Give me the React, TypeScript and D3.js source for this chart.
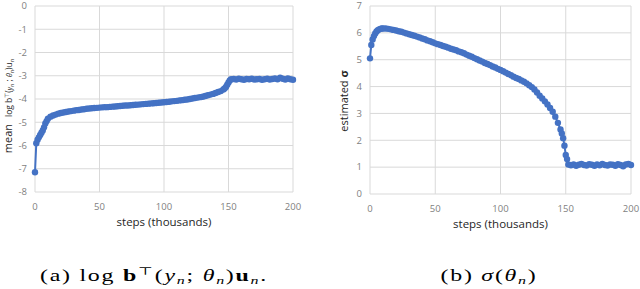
import * as d3 from "d3";

// shared x positions (thousands of steps)
const steps = [
  0, 1, 2, 3, 4, 5, 6, 7, 8, 9, 10,
  12, 14, 16, 18, 20, 22, 24, 26, 28, 30,
  32, 34, 36, 38, 40, 42, 44, 46, 48, 50,
  52, 54, 56, 58, 60, 62, 64, 66, 68, 70,
  72, 74, 76, 78, 80, 82, 84, 86, 88, 90,
  92, 94, 96, 98, 100, 102, 104, 106, 108, 110,
  112, 114, 116, 118, 120, 122, 124, 126, 128, 130,
  132, 134, 136, 138, 140, 142, 144, 146,
  147, 148, 149, 150, 151, 152,
  154, 156, 158, 160, 162, 164, 166, 168, 170, 172,
  174, 176, 178, 180, 182, 184, 186, 188, 190, 192,
  194, 196, 198, 200,
];

// (a) mean log b^T(y_n; theta_n) u_n
const logLik = [
  -7.15, -5.9, -5.75, -5.65, -5.55, -5.45, -5.35, -5.22, -5.05, -4.95, -4.85,
  -4.76, -4.71, -4.67, -4.63, -4.6, -4.58, -4.56, -4.54, -4.52, -4.5,
  -4.48, -4.47, -4.45, -4.44, -4.42, -4.41, -4.4, -4.39, -4.38, -4.37,
  -4.36, -4.35, -4.35, -4.34, -4.33, -4.32, -4.31, -4.3, -4.29, -4.28,
  -4.28, -4.27, -4.26, -4.25, -4.24, -4.23, -4.22, -4.21, -4.2, -4.19,
  -4.18, -4.17, -4.16, -4.15, -4.14, -4.13, -4.12, -4.1, -4.09, -4.08,
  -4.06, -4.05, -4.03, -4.02, -4.0, -3.98, -3.96, -3.94, -3.92, -3.9,
  -3.87, -3.84, -3.81, -3.78, -3.74, -3.7, -3.66, -3.59,
  -3.55, -3.48, -3.39, -3.29, -3.2, -3.15,
  -3.14, -3.16, -3.13, -3.15, -3.17, -3.14, -3.15, -3.13, -3.16, -3.15,
  -3.14, -3.17, -3.15, -3.13, -3.16, -3.14, -3.12, -3.15, -3.08, -3.13,
  -3.16, -3.12, -3.15, -3.17,
];

// (b) estimated sigma
const sigma = [
  5.05, 5.55, 5.75, 5.88, 5.98, 6.05, 6.1, 6.13, 6.15, 6.16, 6.16,
  6.16, 6.15, 6.13, 6.11, 6.09, 6.06, 6.04, 6.01, 5.98, 5.95,
  5.92, 5.89, 5.86, 5.83, 5.79, 5.76, 5.72, 5.69, 5.65, 5.61,
  5.58, 5.55, 5.51, 5.48, 5.45, 5.41, 5.38, 5.35, 5.31, 5.28,
  5.24, 5.19, 5.15, 5.11, 5.06, 5.02, 4.97, 4.93, 4.88, 4.84,
  4.8, 4.75, 4.71, 4.66, 4.62, 4.57, 4.52, 4.47, 4.42, 4.37,
  4.32, 4.28, 4.23, 4.18, 4.12, 4.05, 3.98, 3.89, 3.78, 3.66,
  3.56, 3.45, 3.33, 3.2, 3.06, 2.88, 2.65, 2.4,
  2.25, 2.08, 1.8, 1.45, 1.3, 1.1,
  1.07, 1.1, 1.05, 1.09, 1.12, 1.08, 1.06, 1.11, 1.09, 1.05,
  1.1, 1.07, 1.12, 1.08, 1.06, 1.1, 1.09, 1.05, 1.11, 1.08,
  1.03, 1.1, 1.12, 1.08,
];

const xTicks = [0, 50, 100, 150, 200];
const leftYTicks = [0, -1, -2, -3, -4, -5, -6, -7, -8];
const rightYTicks = [0, 1, 2, 3, 4, 5, 6, 7];

const BLUE = "#4472C4";
const GRID = "#d9d9d9";
const TICK = "#7f7f7f";
const SANS = "'Open Sans', 'Liberation Sans', sans-serif";
const SERIF = "'Liberation Serif', 'DejaVu Serif', serif";

type PanelProps = {
  values: number[];
  x0: number;
  x1: number;
  yDomain: [number, number];
  yRange: [number, number];
  yTicks: number[];
};

const Panel = ({ values, x0, x1, yDomain, yRange, yTicks }: PanelProps) => {
  const x = d3.scaleLinear().domain([0, 200]).range([x0, x1]);
  const y = d3.scaleLinear().domain(yDomain).range(yRange);
  const pts = steps.map((s, i) => [x(s), y(values[i])] as [number, number]);
  const line = d3.line()(pts) || "";
  const yTop = Math.min(...yRange);
  const yBot = Math.max(...yRange);
  return (
    <g>
      {yTicks.map((t) => (
        <line key={"h" + t} x1={x0} x2={x1} y1={y(t)} y2={y(t)} stroke={GRID} strokeWidth={1} />
      ))}
      {xTicks.map((t) => (
        <line key={"v" + t} x1={x(t)} x2={x(t)} y1={yTop} y2={yBot} stroke={GRID} strokeWidth={1} />
      ))}
      {yTicks.map((t) => (
        <text key={"yl" + t} x={x0 - 8} y={y(t)} dy="0.35em" textAnchor="end" fontSize={9.5} fill={TICK} fontFamily={SANS}>
          {t}
        </text>
      ))}
      {xTicks.map((t) => (
        <text key={"xl" + t} x={x(t)} y={yBot + 15} dy="0.35em" textAnchor="middle" fontSize={9.5} fill={TICK} fontFamily={SANS}>
          {t}
        </text>
      ))}
      <text x={(x0 + x1) / 2} y={yBot + 30} dy="0.35em" textAnchor="middle" fontSize={11.5} fill="#262626" fontFamily={SANS}>
        steps (thousands)
      </text>
      <path d={line} fill="none" stroke={BLUE} strokeWidth={2} />
      {pts.map((p, i) => (
        <circle key={i} cx={p[0]} cy={p[1]} r={3.2} fill={BLUE} />
      ))}
    </g>
  );
};

export default function App() {
  return (
    <svg width={640} height={289} style={{ position: "absolute", left: 0, top: 0, background: "#fff" }}>
      <Panel values={logLik} x0={35} x1={293} yDomain={[-8, 0]} yRange={[192, 6]} yTicks={leftYTicks} />
      <Panel values={sigma} x0={370} x1={631} yDomain={[0, 7]} yRange={[194, 6]} yTicks={rightYTicks} />

      {/* left y label */}
      <text transform="translate(12,106) rotate(-90)" textAnchor="middle" fill="#262626" fontFamily={SANS}>
        <tspan fontSize={11}>mean</tspan>
        <tspan fontSize={8.5} dx={7}>log b</tspan>
        <tspan fontSize={6} dy={-3.5}>⊤</tspan>
        <tspan fontSize={8.5} dy={3.5}>(</tspan>
        <tspan fontSize={7} fontStyle="italic">y</tspan>
        <tspan fontSize={5.5} dy={1.5} fontStyle="italic">n</tspan>
        <tspan fontSize={8.5} dy={-1.5}> ; </tspan>
        <tspan fontSize={7} fontStyle="italic">θ</tspan>
        <tspan fontSize={5.5} dy={1.5}>n</tspan>
        <tspan fontSize={8.5} dy={-1.5}>)u</tspan>
        <tspan fontSize={5.5} dy={1.5}>n</tspan>
      </text>

      {/* right y label */}
      <text transform="translate(348,101) rotate(-90)" textAnchor="middle" fontSize={11} fill="#262626" fontFamily={SANS}>
        estimated <tspan fontWeight="bold">σ</tspan>
      </text>

      {/* captions */}
      <g transform="translate(154,276) scale(1.45,1)">
        <text x={0} y={0} dy="0.33em" textAnchor="middle" fontSize={16.5} letterSpacing={1.2} fill="#000" fontFamily={SERIF}>
          <tspan>(a) log </tspan>
          <tspan fontWeight="bold">b</tspan>
          <tspan fontSize={11} dy={-6}>⊤</tspan>
          <tspan dy={6}>(</tspan>
          <tspan fontStyle="italic">y</tspan>
          <tspan fontStyle="italic" fontSize={11} dy={3}>n</tspan>
          <tspan dy={-3}>; </tspan>
          <tspan fontStyle="italic">θ</tspan>
          <tspan fontStyle="italic" fontSize={11} dy={3}>n</tspan>
          <tspan dy={-3}>)</tspan>
          <tspan fontWeight="bold">u</tspan>
          <tspan fontStyle="italic" fontSize={11} dy={3}>n</tspan>
          <tspan dy={-3}>.</tspan>
        </text>
      </g>
      <g transform="translate(489,276) scale(1.45,1)">
        <text x={0} y={0} dy="0.33em" textAnchor="middle" fontSize={16.5} letterSpacing={1.2} fill="#000" fontFamily={SERIF}>
          <tspan>(b) </tspan>
          <tspan fontStyle="italic">σ</tspan>
          <tspan>(</tspan>
          <tspan fontStyle="italic">θ</tspan>
          <tspan fontStyle="italic" fontSize={11} dy={3}>n</tspan>
          <tspan dy={-3}>)</tspan>
        </text>
      </g>
    </svg>
  );
}
